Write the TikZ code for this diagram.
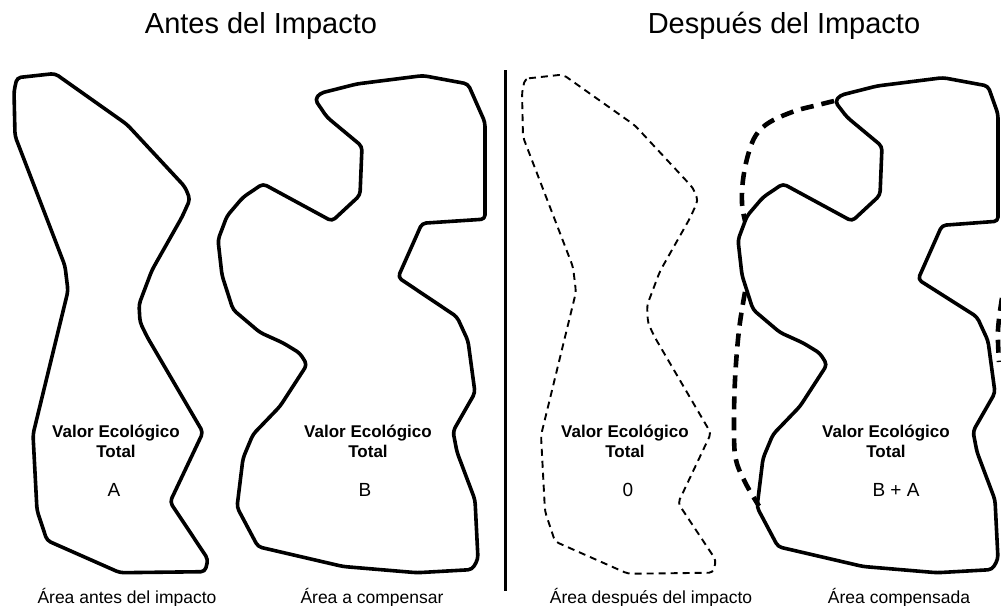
\documentclass[tikz,border=0pt]{standalone}
\usepackage{fontspec}
\setmainfont{Liberation Sans}
\begin{document}
\begin{tikzpicture}[x=1pt,y=-1pt,
  region/.style={draw=black,line width=3.6pt,rounded corners=4pt,line join=round},
  lostregion/.style={draw=black,line width=1.9pt,rounded corners=4pt,dash pattern=on 7pt off 5pt},
  unionline/.style={draw=black,line width=4.6pt,dash pattern=on 13pt off 8pt},
  divider/.style={draw=black,line width=3pt},
  stretch/.style={shift={(0,-2.4)},yscale=1.04},
  titletext/.style={font=\fontsize{29}{32}\selectfont,anchor=base,inner sep=0pt},
  valtext/.style={font=\bfseries\fontsize{17}{20}\selectfont,align=center,inner sep=0pt},
  lettertext/.style={font=\fontsize{19}{21}\selectfont,inner sep=0pt},
  labeltext/.style={font=\fontsize{17.5}{20}\selectfont,anchor=base,inner sep=0pt}]
\useasboundingbox (0,0) rectangle (1001,605);
\clip (0,0) rectangle (1001,605);

% titles
\node[titletext] (t1) at (261,33) {Antes del Impacto};
\node[titletext] (t2) at (784,33) {Después del Impacto};

% divider
\coordinate (dtop) at (505,70);
\coordinate (dbot) at (505,591);
\draw[divider] (dtop) -- (dbot);

\begin{scope}[stretch]
% shape A
\draw[region] (17,77) -- (55,73) -- (127,122) -- (185,182) -- (190,194) -- (182,211)
  -- (152,262) -- (139,295) -- (140,312) -- (147,326) -- (203,418) -- (170,485)
  -- (208,540) -- (205,552) -- (120,553) -- (47,522) -- (37,493) -- (33,420)
  -- (68,282) -- (65,258) -- (15,133) -- (14,90) -- cycle;

% shape 0 (A shifted, dashed)
\begin{scope}[shift={(508,1)}]
\draw[lostregion] (17,77) -- (55,73) -- (127,122) -- (185,182) -- (190,194) -- (182,211)
  -- (152,262) -- (139,295) -- (140,312) -- (147,326) -- (203,418) -- (170,485)
  -- (208,540) -- (205,552) -- (120,553) -- (47,522) -- (37,493) -- (33,420)
  -- (68,282) -- (65,258) -- (15,133) -- (14,90) -- cycle;
\end{scope}

% shape B
\draw[region] (315,98) -- (320,92) -- (357,83) -- (423,75) -- (468,83) -- (485,120)
  -- (485,213) -- (422,217) -- (398,269) -- (457,307) -- (468,330) -- (475,380)
  -- (453,417) -- (457,437) -- (475,483) -- (478,540) -- (472,550) -- (417,553)
  -- (343,547) -- (258,528) -- (237,490) -- (243,443) -- (253,420) -- (280,393)
  -- (307,353) -- (300,342) -- (283,332) -- (260,322) -- (233,300) -- (222,267)
  -- (218,233) -- (227,210) -- (243,192) -- (263,179) -- (332,215) -- (360,190)
  -- (362,143) -- (327,115) -- cycle;

% shape B+A
\draw[region] (835,100) -- (840,94) -- (877,85) -- (943,77) -- (988,85) -- (998,112)
  -- (998,215) -- (942,219) -- (918,271) -- (977,307) -- (988,330) -- (995,380)
  -- (973,417) -- (977,437) -- (995,483) -- (998,540) -- (992,550) -- (937,553)
  -- (863,547) -- (778,528) -- (757,490) -- (763,443) -- (773,420) -- (800,393)
  -- (827,353) -- (820,342) -- (803,332) -- (780,322) -- (753,300) -- (742,267)
  -- (738,233) -- (747,210) -- (763,192) -- (783,179) -- (852,215) -- (880,190)
  -- (882,143) -- (847,115) -- cycle;
\end{scope}

% union outline (dashed)
\coordinate (u1s) at (834,101);
\coordinate (u1e) at (745,221);
\draw[unionline] plot[smooth,tension=0.6] coordinates {(u1s) (818,105) (795,111) (770,122) (756,135) (748,155) (743,180) (742,203) (u1e)};
\coordinate (u2s) at (745,292);
\coordinate (u2e) at (759,506);
\draw[unionline] plot[smooth,tension=0.6] coordinates {(u2s) (739,330) (735,380) (734,430) (736,460) (746,484) (u2e)};
\coordinate (u3s) at (1002,298);
\coordinate (u3e) at (999,362);
\draw[unionline] plot[smooth,tension=0.6] coordinates {(u3s) (998,330) (u3e)};

% texts in shapes
\node[valtext] (va) at (116,441) {Valor Ecológico\\Total};
\node[lettertext] (la) at (114,490) {A};
\node[valtext] (vb) at (368,441) {Valor Ecológico\\Total};
\node[lettertext] (lb) at (365,490) {B};
\node[valtext] (v0) at (625,441) {Valor Ecológico\\Total};
\node[lettertext] (l0) at (628,490) {0};
\node[valtext] (vba) at (886,441) {Valor Ecológico\\Total};
\node[lettertext] (lba) at (896,490) {B + A};

% labels
\node[labeltext] (ca) at (127,603) {Área antes del impacto};
\node[labeltext] (cb) at (372,603) {Área a compensar};
\node[labeltext] (c0) at (651,603) {Área después del impacto};
\node[labeltext] (cba) at (899,603) {Área compensada};
\end{tikzpicture}
\end{document}
